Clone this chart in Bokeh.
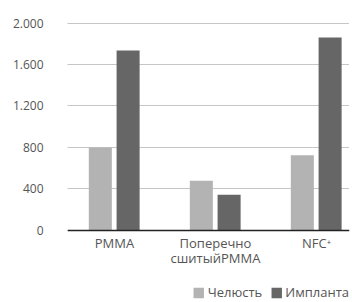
from bokeh.plotting import figure
from bokeh.models import Legend, LegendItem, FixedTicker, ColumnDataSource, Span
from bokeh.core.properties import value
from bokeh.embed import file_html
from bokeh.resources import INLINE

categories = ["PMMA", "Поперечно\nсшитыйPMMA", "NFC\u207a"]
jaw = [800, 480, 725]
implant = [1735, 345, 1860]
series_names = ["Челюсть", "Импланта"]
y_ticks = [0, 400, 800, 1200, 1600, 2000]
y_tick_labels = ["0", "400", "800", "1.200", "1.600", "2.000"]

LIGHT = "#b2b3b2"
DARK = "#666666"
TEXT = "#555555"
FONT = "Open Sans"

xs = list(range(len(categories)))
src = ColumnDataSource(dict(
    x_jaw=[x - 0.14 for x in xs], jaw=jaw,
    x_imp=[x + 0.135 for x in xs], imp=implant,
))
lab = ColumnDataSource(dict(x=xs, y=[0] * len(xs), text=categories))

p = figure(frame_width=282, frame_height=279, output_backend="svg", toolbar_location=None,
           x_range=(-0.465, 2.327), y_range=(-685, 2005), x_axis_location=None,
           min_border_left=67, min_border_right=1, min_border_top=22,
           min_border_bottom=0)
p.outline_line_color = None

r1 = p.vbar(x="x_jaw", top="jaw", width=0.228, source=src, fill_color=LIGHT, line_color=None)
r2 = p.vbar(x="x_imp", top="imp", width=0.228, source=src, fill_color=DARK, line_color=None)

p.xgrid.grid_line_color = None
p.ygrid.grid_line_color = "#8c8c8c"
p.ygrid.grid_line_dash = "1 1"
p.ygrid.grid_line_width = 1
p.ygrid.ticker = FixedTicker(ticks=y_ticks)

p.yaxis.ticker = FixedTicker(ticks=y_ticks)
p.yaxis.major_label_overrides = {t: l for t, l in zip(y_ticks, y_tick_labels)}
p.yaxis.axis_line_color = None
p.yaxis.major_tick_line_color = None
p.yaxis.minor_tick_line_color = None
p.yaxis.major_label_standoff = 18
p.yaxis.major_label_text_font = FONT
p.yaxis.major_label_text_font_size = "12px"
p.yaxis.major_label_text_color = TEXT

# x axis line at zero and category labels below it
p.add_layout(Span(location=0, dimension="width", line_color="#222222", line_width=1.5))
p.text(x="x", y="y", text="text", source=lab, text_align="center",
       text_baseline="top", y_offset=4, text_font=value(FONT),
       text_font_size=value("13px"), text_color=TEXT, text_line_height=0.8)

legend = Legend(items=[LegendItem(label=series_names[0], renderers=[r1]),
                       LegendItem(label=series_names[1], renderers=[r2])],
                orientation="horizontal", location="bottom_right",
                label_text_font=FONT, label_text_font_size="13px",
                label_text_color=TEXT, glyph_width=13, glyph_height=13,
                label_standoff=3, spacing=7, padding=0, margin=0,
                label_height=13,
                border_line_color=None, background_fill_alpha=0)
p.add_layout(legend, "center")

open("out.html", "w").write(file_html(p, INLINE))
